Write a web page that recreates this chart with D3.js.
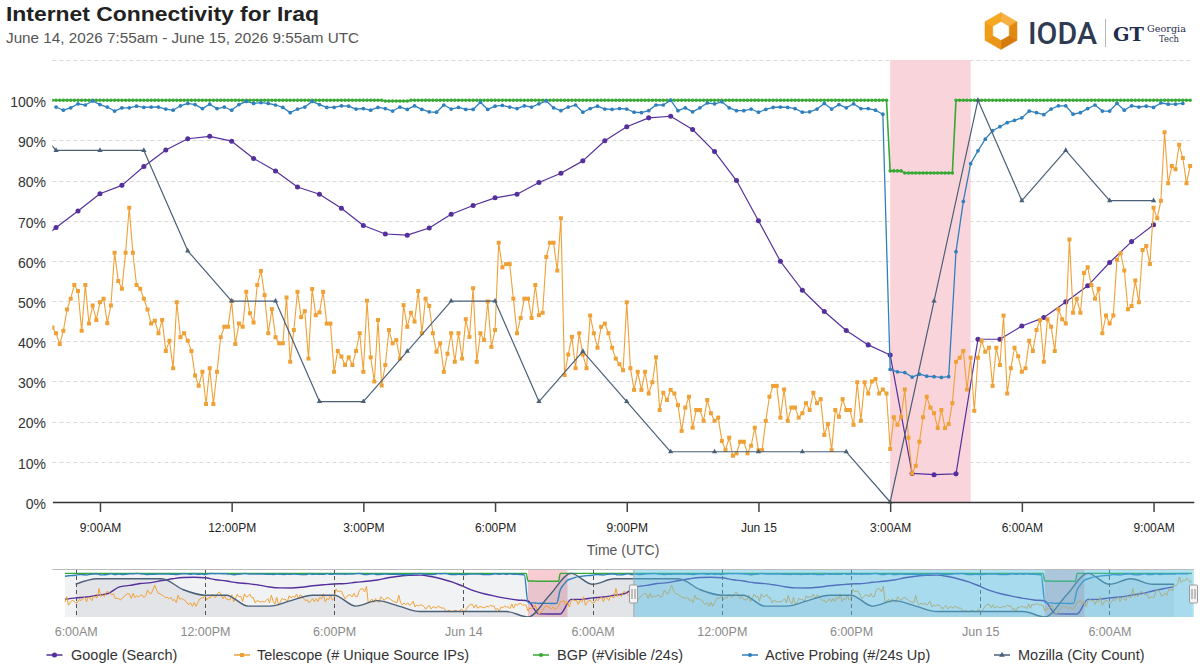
<!DOCTYPE html>
<html lang="en">
<head>
<meta charset="UTF-8">
<title>Internet Connectivity for Iraq</title>
<script src="https://cdn.jsdelivr.net/npm/d3@7"></script>
<style>
  body { margin: 0; background: #fff; }
  svg { display: block; font-family: "Liberation Sans", Arial, Helvetica, sans-serif; }
</style>
</head>
<body>
<svg id="chart" width="1200" height="672"></svg>
<script>
// ---- data ----
const titleText = "Internet Connectivity for Iraq";
const subtitleText = "June 14, 2026 7:55am - June 15, 2026 9:55am UTC";

const chartStart = "2026-06-14T07:55:00Z";
const chartEnd = "2026-06-15T09:55:00Z";
const navStart = "2026-06-13T04:55:00Z";
const navDataStart = "2026-06-13T05:30:00Z";

const outageStarts = ["2026-06-15T03:00:00Z"];
const outageEnds = ["2026-06-15T04:50:00Z"];

const yTicks = [0, 10, 20, 30, 40, 50, 60, 70, 80, 90, 100];
const gridTicks = [10, 20, 30, 40, 50, 60, 70, 80, 90, 100, 110];

const mainTicks = ["2026-06-14T09:00:00Z", "2026-06-14T12:00:00Z", "2026-06-14T15:00:00Z",
  "2026-06-14T18:00:00Z", "2026-06-14T21:00:00Z", "2026-06-15T00:00:00Z",
  "2026-06-15T03:00:00Z", "2026-06-15T06:00:00Z", "2026-06-15T09:00:00Z"];
const mainTickLabels = ["9:00AM", "12:00PM", "3:00PM", "6:00PM", "9:00PM", "Jun 15", "3:00AM", "6:00AM", "9:00AM"];

const navTicks = ["2026-06-13T06:00:00Z", "2026-06-13T12:00:00Z", "2026-06-13T18:00:00Z",
  "2026-06-14T00:00:00Z", "2026-06-14T06:00:00Z", "2026-06-14T12:00:00Z",
  "2026-06-14T18:00:00Z", "2026-06-15T00:00:00Z", "2026-06-15T06:00:00Z"];
const navTickLabels = ["6:00AM", "12:00PM", "6:00PM", "Jun 14", "6:00AM", "12:00PM", "6:00PM", "Jun 15", "6:00AM"];

// Google (Search), every 30 min from 7:30
const googleStart = "2026-06-14T07:30:00Z";
const googleValues = [63.8, 68.3, 72.4, 76.7, 78.8, 83.5, 87.6, 90.4, 91.0, 89.8, 85.5, 82.4,
  78.4, 76.6, 73.1, 68.8, 66.7, 66.4, 68.2, 71.6, 73.8, 75.7, 76.6, 79.5,
  81.8, 84.9, 89.9, 93.4, 95.6, 96.0, 92.7, 87.2, 80.0, 70.0, 59.9, 52.7,
  47.4, 42.7, 39.1, 36.6, 7.1, 6.8, 7.0, 40.5, 40.5, 43.8, 45.9, 49.8,
  53.8, 59.6, 64.8, 69.0];

// Telescope (# Unique Source IPs), every 5 min from 7:55
const telescopeStart = "2026-06-14T07:55:00Z";
const telescopeValues = [
  43.4, 42.0, 39.3, 42.6, 47.9, 50.6, 54.0, 52.5, 42.6, 54.0, 44.4, 48.9,
  45.3, 49.7, 50.6, 44.5, 48.9, 62.0, 55.0, 53.1, 62.0, 73.2, 62.0, 54.0,
  53.1, 50.6, 47.9, 44.4, 45.1, 42.0, 45.3, 37.6, 40.1, 33.3, 49.7, 41.0,
  42.0, 40.1, 37.6, 31.5, 28.9, 32.4, 24.4, 33.3, 24.4, 32.4, 41.0, 43.6,
  43.6, 50.0, 39.3, 44.4, 43.6, 52.3, 47.0, 44.7, 54.0, 57.5, 51.5, 42.0,
  48.0, 41.0, 39.5, 39.5, 50.9, 34.9, 42.8, 52.3, 46.0, 47.5, 35.7, 53.0,
  46.5, 47.2, 52.3, 44.4, 44.4, 32.4, 37.6, 36.2, 34.1, 36.0, 34.1, 37.6,
  42.0, 32.4, 50.1, 36.0, 30.0, 45.3, 29.0, 34.1, 42.8, 39.5, 40.3, 35.7,
  49.0, 43.6, 47.1, 44.9, 52.5, 42.0, 50.6, 48.8, 42.0, 37.4, 39.5, 32.4,
  36.9, 42.0, 34.9, 42.0, 35.7, 45.5, 41.1, 53.2, 34.9, 42.0, 40.3, 49.9,
  38.6, 42.8, 64.5, 58.4, 59.2, 59.2, 50.6, 42.0, 45.8, 50.6, 50.6, 45.8,
  54.0, 46.5, 47.1, 61.0, 64.5, 64.5, 57.6, 70.6, 31.6, 36.7, 41.1, 33.3,
  42.0, 36.7, 33.3, 46.4, 42.0, 38.4, 43.6, 44.4, 42.0, 38.4, 35.7, 34.3,
  32.8, 49.7, 33.3, 27.9, 32.4, 27.9, 32.4, 27.0, 29.8, 36.0, 22.9, 27.2,
  25.4, 27.9, 27.0, 24.1, 17.7, 23.5, 26.2, 18.5, 22.9, 22.9, 20.2, 25.4,
  22.1, 20.2, 21.0, 15.2, 12.9, 16.0, 11.5, 12.1, 15.0, 15.0, 12.1, 14.0,
  18.5, 12.9, 12.9, 20.2, 26.2, 28.9, 28.9, 21.0, 28.0, 20.2, 23.5, 23.5,
  21.0, 22.1, 24.6, 22.9, 27.2, 24.6, 25.6, 16.7, 19.4, 12.9, 22.9, 21.2,
  25.6, 22.9, 22.9, 19.2, 29.8, 20.2, 29.8, 27.0, 30.0, 30.6, 27.0, 28.0,
  27.0, 13.2, 21.1, 19.2, 21.2, 28.0, 16.0, 7.1, 9.0, 15.0, 21.1, 26.2,
  23.5, 22.1, 18.4, 22.9, 18.4, 19.4, 24.6, 34.9, 35.9, 37.6, 28.0, 35.9,
  22.7, 35.9, 40.1, 37.4, 38.4, 28.9, 38.4, 34.1, 46.4, 27.0, 33.3, 38.4,
  36.3, 32.4, 33.3, 40.1, 37.6, 42.8, 45.3, 34.9, 45.5, 43.6, 37.6, 48.0,
  45.5, 44.4, 65.3, 47.1, 50.6, 47.1, 57.0, 58.4, 54.0, 50.6, 53.1, 42.0,
  46.4, 44.4, 46.4, 60.3, 61.9, 57.6, 48.0, 48.8, 55.1, 49.7, 62.7, 63.7,
  59.2, 73.2, 70.6, 75.0, 92.0, 79.3, 83.6, 82.8, 88.9, 85.6, 79.3, 83.6];

// BGP (#Visible /24s), every 5 min from 7:55
const bgpStart = "2026-06-14T07:55:00Z";
const bgpValues = [
  100, 100, 100, 100, 100, 100, 100, 100, 100, 100, 100, 100,
  100, 100, 100, 100, 100, 100, 100, 100, 100, 100, 100, 100,
  100, 100, 100, 100, 100, 100, 100, 100, 100, 100, 100, 100,
  100, 100, 100, 100, 100, 100, 100, 100, 100, 100, 100, 100,
  100, 100, 100, 100, 100, 100, 100, 100, 100, 100, 100, 100,
  100, 100, 100, 100, 100, 100, 100, 100, 100, 100, 100, 100,
  100, 100, 100, 100, 100, 100, 100, 100, 100, 100, 100, 100,
  100, 100, 100, 100, 100, 100, 100, 99.8, 99.8, 99.8, 99.8, 99.8,
  99.8, 99.8, 100, 100, 100, 100, 100, 100, 100, 100, 100, 100,
  100, 100, 100, 100, 100, 100, 100, 100, 100, 100, 100, 100,
  100, 100, 100, 100, 100, 100, 100, 100, 100, 100, 100, 100,
  100, 100, 100, 100, 100, 100, 100, 100, 100, 100, 100, 100,
  100, 100, 100, 100, 100, 100, 100, 100, 100, 100, 100, 100,
  100, 100, 100, 100, 100, 100, 100, 100, 100, 100, 100, 100,
  100, 100, 100, 100, 100, 100, 100, 100, 100, 100, 100, 100,
  100, 100, 100, 100, 100, 100, 100, 100, 100, 100, 100, 100,
  100, 100, 100, 100, 100, 100, 100, 100, 100, 100, 100, 100,
  100, 100, 100, 100, 100, 100, 100, 100, 100, 100, 100, 100,
  100, 100, 100, 100, 100, 100, 100, 100, 100, 100, 100, 100,
  100, 82.4, 82.4, 82.4, 82.4, 81.9, 81.9, 81.9, 81.9, 81.9, 81.9, 81.9,
  81.9, 81.9, 81.9, 81.9, 81.9, 81.9, 81.9, 100, 100, 100, 100, 100,
  100, 100, 100, 100, 100, 100, 100, 100, 100, 100, 100, 100,
  100, 100, 100, 100, 100, 100, 100, 100, 100, 100, 100, 100,
  100, 100, 100, 100, 100, 100, 100, 100, 100, 100, 100, 100,
  100, 100, 100, 100, 100, 100, 100, 100, 100, 100, 100, 100,
  100, 100, 100, 100, 100, 100, 100, 100, 100, 100, 100, 100];

// Active Probing (#/24s Up), every 10 min from 8:00
const probingStart = "2026-06-14T08:00:00Z";
const probingValues = [
  98.3, 97.5, 98.1, 99.1, 98.8, 99.8, 98.9, 98.3, 97.3, 98.1, 98.1, 98.5,
  98.2, 98.3, 98.3, 97.8, 97.5, 98.6, 99.2, 98.9, 97.9, 99.0, 97.9, 98.3,
  97.5, 98.9, 99.7, 99.2, 99.4, 99.2, 98.8, 98.2, 96.9, 97.8, 98.3, 99.7,
  98.9, 98.2, 98.2, 98.6, 98.5, 97.8, 97.9, 97.5, 98.2, 97.9, 97.3,
  98.3, 97.7, 98.6, 97.7, 97.1, 97.0, 98.8, 97.8, 98.2, 97.7,
  97.7, 99.5, 97.7, 98.5, 98.7, 98.3, 97.9, 98.6, 98.3, 99.1,
  99.8, 98.1, 97.4, 98.3, 98.8, 97.0, 97.9, 98.5, 97.8, 97.7,
  97.9, 97.8, 97.0, 96.9, 97.4, 98.8, 98.8, 100, 97.4, 98.1,
  97.1, 98.1, 99.3, 99.1, 99.6, 98.1, 97.4, 97.4, 97.8, 97.0,
  97.7, 98.2, 98.3, 98.2, 97.9, 97.0, 97.1, 97.8, 99.2, 97.8,
  98.9, 98.1, 99.1, 97.9, 97.9, 97.5, 96.5,
  33.0, 32.4, 32.2, 31.1, 31.8, 31.3, 31.2, 31.0, 31.2,
  62.3, 74.8, 84.2, 87.4, 90.3, 92.4, 93.4, 94.4, 95.0, 95.6,
  97.3, 96.9, 96.4, 97.8, 98.6, 98.6, 96.5, 96.9, 97.9, 98.8,
  97.3, 97.3, 99.2, 97.5, 98.6, 98.3, 98.5, 98.2, 99.3, 99.0,
  99.0, 99.2];

// Mozilla (City Count), hourly from 7:00
const mozillaStart = "2026-06-14T07:00:00Z";
const mozillaValues = [100, 87.5, 87.5, 87.5, 62.5, 50, 50, 25, 25, 37.5, 50, 50, 25, 37.5,
  25, 12.5, 12.5, 12.5, 12.5, 12.5, 0, 50, 100, 75, 87.5, 75, 75];

const seriesNames = ["Google (Search)", "Telescope (# Unique Source IPs)", "BGP (#Visible /24s)",
  "Active Probing (#/24s Up)", "Mozilla (City Count)"];

// ---- layout ----
const W = 1200, H = 672;
const plotLeft = 52.4, plotRight = 1193.8, plotTop = 60, plotBottom = 502;
const navTop = 569, navBottom = 617;
const legendMarkX = [54.5, 242, 541, 750, 1002];
const legendTextX = [71, 257, 557, 765, 1018];

const series = [
  { name: seriesNames[0], color: "#55309d", start: googleStart, step: 30, values: googleValues, symbol: d3.symbolCircle, size: 20, width: 1.2 },
  { name: seriesNames[1], color: "#f0a136", start: telescopeStart, step: 5, values: telescopeValues, symbol: d3.symbolSquare, size: 16, width: 1.1 },
  { name: seriesNames[2], color: "#36a833", start: bgpStart, step: 5, values: bgpValues, symbol: d3.symbolCircle, size: 10, width: 1.6 },
  { name: seriesNames[3], color: "#2f80bd", start: probingStart, step: 10, values: probingValues, symbol: d3.symbolCircle, size: 11, width: 1.3 },
  { name: seriesNames[4], color: "#4a6079", start: mozillaStart, step: 60, values: mozillaValues, symbol: d3.symbolTriangle, size: 12, width: 1.2 }
];
series.forEach(s => {
  const t0 = new Date(s.start);
  s.points = s.values.map((v, i) => ({ t: d3.utcMinute.offset(t0, i * s.step), v }));
});

const svg = d3.select("#chart");
const t0 = new Date(chartStart), t1 = new Date(chartEnd);

// ---- title ----
svg.append("text").attr("x", 6).attr("y", 21)
  .attr("font-size", 21).attr("font-weight", "bold").attr("fill", "#222")
  .attr("textLength", 313).attr("lengthAdjust", "spacingAndGlyphs")
  .text(titleText);
svg.append("text").attr("x", 6).attr("y", 42.5)
  .attr("font-size", 15).attr("fill", "#555")
  .attr("textLength", 353).attr("lengthAdjust", "spacingAndGlyphs")
  .text(subtitleText);

// ---- logo ----
const logo = svg.append("g");
const hc = [1001, 31], R = 18.5, r = 9.5;
const hexPt = (rad, i) => {
  const a = (-90 + 60 * i) * Math.PI / 180;
  return [hc[0] + rad * Math.cos(a), hc[1] + rad * Math.sin(a)];
};
const segColors = ["#f6b142", "#e08a12", "#d47b0c", "#e99516", "#f39c1a", "#f7a823"];
for (let i = 0; i < 6; i++) {
  const pts = [hexPt(R, i), hexPt(R, i + 1), hexPt(r, i + 1), hexPt(r, i)];
  logo.append("path").attr("d", "M" + pts.join("L") + "Z").attr("fill", segColors[i])
    .attr("stroke", segColors[i]).attr("stroke-width", 0.5);
}
logo.append("text").attr("x", 1028).attr("y", 43.5)
  .attr("font-family", "Roboto, 'Liberation Sans', Arial, sans-serif")
  .attr("font-size", 31).attr("font-weight", 500).attr("fill", "#2f3b52")
  .attr("textLength", 69).attr("lengthAdjust", "spacingAndGlyphs").text("IODA");
logo.append("line").attr("x1", 1105.5).attr("x2", 1105.5).attr("y1", 19).attr("y2", 47)
  .attr("stroke", "#b5b5b5").attr("stroke-width", 1);
logo.append("text").attr("x", 1113).attr("y", 41)
  .attr("font-family", "'DejaVu Serif', serif").attr("font-size", 19).attr("font-weight", "bold")
  .attr("fill", "#1f2d4d")
  .attr("textLength", 31).attr("lengthAdjust", "spacingAndGlyphs").text("GT");
logo.append("text").attr("x", 1147).attr("y", 32)
  .attr("font-family", "'DejaVu Serif', serif").attr("font-size", 10).attr("fill", "#1f2d4d")
  .attr("textLength", 39).attr("lengthAdjust", "spacingAndGlyphs").text("Georgia");
logo.append("text").attr("x", 1159).attr("y", 42)
  .attr("font-family", "'DejaVu Serif', serif").attr("font-size", 10).attr("fill", "#1f2d4d")
  .attr("textLength", 20).attr("lengthAdjust", "spacingAndGlyphs").text("Tech");

// ---- main chart ----
const x = d3.scaleUtc().domain([t0, t1]).range([plotLeft, plotRight]);
const y = d3.scaleLinear().domain([0, 110]).range([plotBottom, plotTop]);

svg.append("defs").append("clipPath").attr("id", "plotClip")
  .append("rect").attr("x", plotLeft).attr("y", plotTop - 6)
  .attr("width", plotRight - plotLeft).attr("height", plotBottom - plotTop + 12);

// grid
svg.append("g").selectAll("line").data(gridTicks).join("line")
  .attr("x1", plotLeft).attr("x2", plotRight)
  .attr("y1", d => Math.round(y(d)) + 0.5).attr("y2", d => Math.round(y(d)) + 0.5)
  .attr("stroke", "#d9d9d9").attr("stroke-dasharray", "4,3");

// outage band
svg.append("g").selectAll("rect").data(outageStarts).join("rect")
  .attr("x", d => x(new Date(d)))
  .attr("width", (d, i) => x(new Date(outageEnds[i])) - x(new Date(d)))
  .attr("y", plotTop).attr("height", plotBottom - plotTop)
  .attr("fill", "#f9d5db");

// y axis labels
svg.append("g").attr("transform", `translate(46,0)`)
  .call(d3.axisLeft(y).tickValues(yTicks).tickFormat(d => d + "%").tickSize(0).tickPadding(0))
  .call(g => g.select(".domain").remove())
  .attr("font-family", null).attr("font-size", 14)
  .selectAll("text").attr("fill", "#333").attr("dy", "0.45em");

// series
const mainG = svg.append("g").attr("clip-path", "url(#plotClip)");
const line = d3.line().x(d => x(d.t)).y(d => y(d.v));
series.forEach(s => {
  mainG.append("path").datum(s.points).attr("d", line)
    .attr("fill", "none").attr("stroke", s.color).attr("stroke-width", s.width)
    .attr("stroke-linejoin", "round");
  mainG.append("g").selectAll("path")
    .data(s.points.filter(p => p.t >= t0 && p.t <= t1)).join("path")
    .attr("transform", p => `translate(${x(p.t)},${y(p.v)})`)
    .attr("d", d3.symbol(s.symbol, s.size)).attr("fill", s.color);
});

// x axis
svg.append("g").attr("transform", `translate(0,${plotBottom})`)
  .call(d3.axisBottom(x).tickValues(mainTicks.map(d => new Date(d)))
    .tickFormat((d, i) => mainTickLabels[i]).tickSize(10).tickSizeOuter(0).tickPadding(11))
  .attr("font-family", null).attr("font-size", 12)
  .call(g => g.select(".domain").attr("stroke", "#333").attr("stroke-width", 1.5))
  .call(g => g.selectAll(".tick line").attr("stroke", "#444").attr("stroke-width", 1.5))
  .call(g => g.selectAll(".tick text").attr("fill", "#222"));

svg.append("text").attr("x", (plotLeft + plotRight) / 2).attr("y", 555)
  .attr("text-anchor", "middle").attr("font-size", 14).attr("fill", "#555").text("Time (UTC)");

// ---- navigator ----
const xn = d3.scaleUtc().domain([new Date(navStart), t1]).range([plotLeft, plotRight]);
const yn = d3.scaleLinear().domain([0, 110]).range([navBottom, navTop]);
const navG = svg.append("g");
navG.append("defs").append("clipPath").attr("id", "navClip")
  .append("rect").attr("x", plotLeft).attr("y", navTop).attr("width", plotRight - plotLeft).attr("height", navBottom - navTop);

// the navigator repeats the daily pattern of the data shown above
const dayBack = d3.utcHour.offset(t0, -24);
const navLo = new Date(navDataStart);
function navPoints(pts) {
  const out = [];
  pts.forEach(p => {
    const a = d3.utcHour.offset(p.t, -48);
    if (a >= navLo && a < dayBack) out.push({ t: a, v: p.v });
  });
  pts.forEach(p => {
    const b = d3.utcHour.offset(p.t, -24);
    if (b >= dayBack && b < t0 && b >= navLo) out.push({ t: b, v: p.v });
  });
  pts.forEach(p => { if (p.t >= t0) out.push(p); });
  return out.sort((m, n) => m.t - n.t);
}

const navOutages = [];
outageStarts.forEach((s, i) => {
  [-24, 0].forEach(h => navOutages.push([d3.utcHour.offset(new Date(s), h), d3.utcHour.offset(new Date(outageEnds[i]), h)]));
});
navG.selectAll("rect.out").data(navOutages).join("rect").attr("class", "out")
  .attr("x", d => xn(d[0])).attr("width", d => xn(d[1]) - xn(d[0]))
  .attr("y", navTop).attr("height", navBottom - navTop).attr("fill", "#f7ccd3");

const navBody = navG.append("g").attr("clip-path", "url(#navClip)");
const areaN = d3.area().x(d => xn(d.t)).y0(navBottom).y1(d => yn(d.v)).curve(d3.curveMonotoneX);
navBody.append("path").datum(navPoints(series[2].points)).attr("d", areaN).attr("fill", "rgba(120,132,148,0.10)");
navBody.append("path").datum(navPoints(series[4].points)).attr("d", areaN).attr("fill", "rgba(120,132,148,0.12)");

navG.append("g").selectAll("line").data(navTicks).join("line")
  .attr("x1", d => Math.round(xn(new Date(d))) + 0.5).attr("x2", d => Math.round(xn(new Date(d))) + 0.5)
  .attr("y1", navTop).attr("y2", navBottom)
  .attr("stroke", "#555").attr("stroke-dasharray", "4,3");

const lineN = d3.line().x(d => xn(d.t)).y(d => yn(d.v)).curve(d3.curveMonotoneX);
const lineNt = d3.line().x(d => xn(d.t)).y(d => yn(d.v));
series.forEach((s, i) => {
  navBody.append("path").datum(navPoints(s.points)).attr("d", i === 1 ? lineNt : lineN)
    .attr("fill", "none").attr("stroke", s.color).attr("stroke-width", i === 1 ? 1 : 1.4);
});

// selected range mask
navG.append("rect").attr("x", xn(t0)).attr("width", xn(t1) - xn(t0))
  .attr("y", navTop).attr("height", navBottom - navTop)
  .attr("fill", "rgba(80,190,230,0.45)");
navG.append("line").attr("x1", xn(t0)).attr("x2", xn(t0)).attr("y1", navTop).attr("y2", navBottom)
  .attr("stroke", "#aaa");
navG.append("line").attr("x1", plotLeft).attr("x2", plotRight).attr("y1", navTop + 0.5).attr("y2", navTop + 0.5)
  .attr("stroke", "#bbb");

// handles
[t0, t1].forEach(t => {
  const hx = Math.round(xn(t)) - 0.5;
  const g = navG.append("g").attr("transform", `translate(${hx},585)`);
  g.append("rect").attr("x", -4).attr("y", 0).attr("width", 8).attr("height", 18)
    .attr("fill", "#f4f4f4").attr("stroke", "#999").attr("rx", 1);
  g.append("line").attr("x1", -1.5).attr("x2", -1.5).attr("y1", 4).attr("y2", 14).attr("stroke", "#888");
  g.append("line").attr("x1", 1.5).attr("x2", 1.5).attr("y1", 4).attr("y2", 14).attr("stroke", "#888");
});

svg.append("g").attr("transform", `translate(0,${navBottom})`)
  .call(d3.axisBottom(xn).tickValues(navTicks.map(d => new Date(d)))
    .tickFormat((d, i) => navTickLabels[i]).tickSize(0).tickPadding(10))
  .attr("font-family", null).attr("font-size", 12.5)
  .call(g => g.select(".domain").remove())
  .call(g => g.selectAll(".tick text").attr("fill", "#8a8a8a"));

// ---- legend ----
const legend = svg.append("g");
series.forEach((s, i) => {
  const g = legend.append("g");
  g.append("line").attr("x1", legendMarkX[i] - 8).attr("x2", legendMarkX[i] + 8)
    .attr("y1", 655).attr("y2", 655).attr("stroke", s.color).attr("stroke-width", 1.5);
  g.append("path").attr("transform", `translate(${legendMarkX[i]},655)`)
    .attr("d", d3.symbol(s.symbol, Math.max(s.size, 14))).attr("fill", s.color);
  g.append("text").attr("x", legendTextX[i]).attr("y", 660)
    .attr("font-size", 14.5).attr("fill", "#333").text(s.name);
});
</script>
</body>
</html>
